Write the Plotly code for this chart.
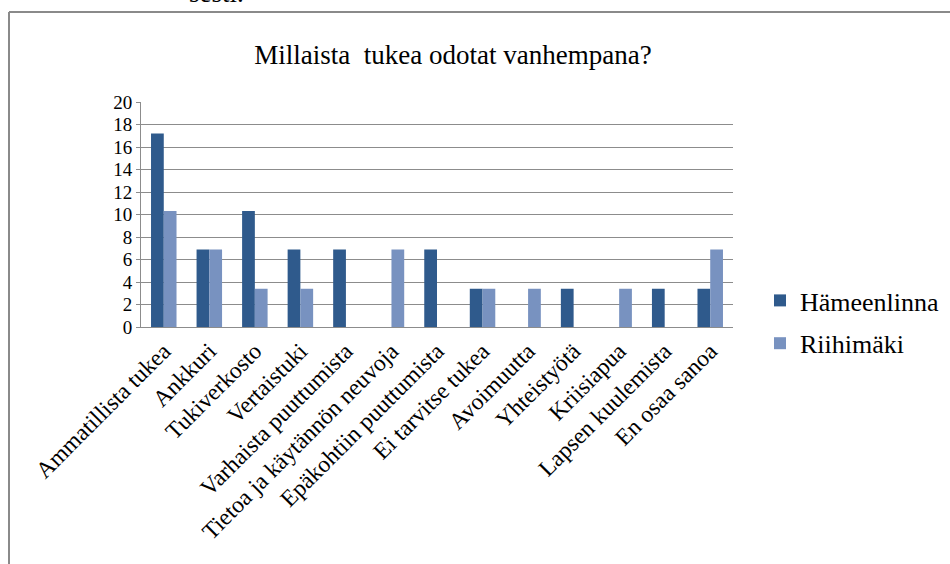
import plotly.graph_objects as go

categories = ["Ammatillista tukea", "Ankkuri", "Tukiverkosto", "Vertaistuki",
              "Varhaista puuttumista", "Tietoa ja käytännön neuvoja",
              "Epäkohtiin puuttumista", "Ei tarvitse tukea", "Avoimuutta",
              "Yhteistyötä", "Kriisiapua", "Lapsen kuulemista", "En osaa sanoa"]
hameenlinna = [17.2, 6.9, 10.3, 6.9, 6.9, 0, 6.9, 3.4, 0, 3.4, 0, 3.4, 3.4]
riihimaki = [10.3, 6.9, 3.4, 3.4, 0, 6.9, 0, 3.4, 3.4, 0, 3.4, 0, 6.9]
y_ticks = list(range(0, 21, 2))

W, H = 950, 564
L, R, T, B = 141, 733, 102, 327

def px(X):
    return (X - L) / (R - L)

def py(Y):
    return (B - Y) / (B - T)

SERIF = "Liberation Serif, Times New Roman, serif"

fig = go.Figure()
fig.add_trace(go.Bar(name="Hämeenlinna", x=categories, y=hameenlinna,
                     marker=dict(color="#2F5A8C", line=dict(width=0)),
                     legendgroup="a"))
fig.add_trace(go.Bar(name="Riihimäki", x=categories, y=riihimaki,
                     marker=dict(color="#7892C0", line=dict(width=0)),
                     legendgroup="b"))

fig.update_layout(
    width=W, height=H,
    margin=dict(l=L, r=W - R, t=T, b=H - B, autoexpand=False),
    paper_bgcolor="white", plot_bgcolor="white",
    barmode="group", bargap=0.44, bargroupgap=0,
    font=dict(family=SERIF, color="black"),
    title=dict(text="Millaista  tukea odotat vanhempana?", x=453 / W, xanchor="center",
               xref="container", yref="container",
               y=1 - 55 / H, yanchor="middle", font=dict(size=27, family=SERIF)),
    legend=dict(x=px(760), xanchor="left", y=py(322), yanchor="middle",
                font=dict(size=26, family=SERIF), tracegroupgap=6,
                itemsizing="constant", bgcolor="rgba(0,0,0,0)"),
    showlegend=True,
)
fig.update_yaxes(range=[0, 20], tickvals=y_ticks, ticktext=[str(v) for v in y_ticks],
                 showgrid=True, gridcolor="#8C8C8C", gridwidth=1,
                 showline=True, linecolor="#8C8C8C", linewidth=1,
                 ticks="outside", ticklen=4, tickcolor="#8C8C8C",
                 tickfont=dict(size=19, family=SERIF), zeroline=False, automargin=False)
fig.update_xaxes(tickangle=-45, tickfont=dict(size=23.5, family=SERIF),
                 showline=True, linecolor="#8C8C8C", linewidth=1, ticks="",
                 automargin=False)

# outer frame (left and top edges visible)
fig.add_shape(type="line", xref="paper", yref="paper",
              x0=px(9), x1=px(9), y0=py(12), y1=py(580),
              line=dict(color="#8A8A8A", width=2))
fig.add_shape(type="line", xref="paper", yref="paper",
              x0=px(9), x1=px(960), y0=py(12), y1=py(12),
              line=dict(color="#8A8A8A", width=2))

# cut-off text above frame
fig.add_annotation(text="sesti.", xref="paper", yref="paper", x=px(216), y=py(10),
                   xanchor="center", yanchor="bottom", showarrow=False,
                   font=dict(size=27, family=SERIF, color="black"))

fig.write_html("out.html", config={"displayModeBar": False},
               post_script="document.body.style.margin='0px';document.body.style.overflow='hidden';")
